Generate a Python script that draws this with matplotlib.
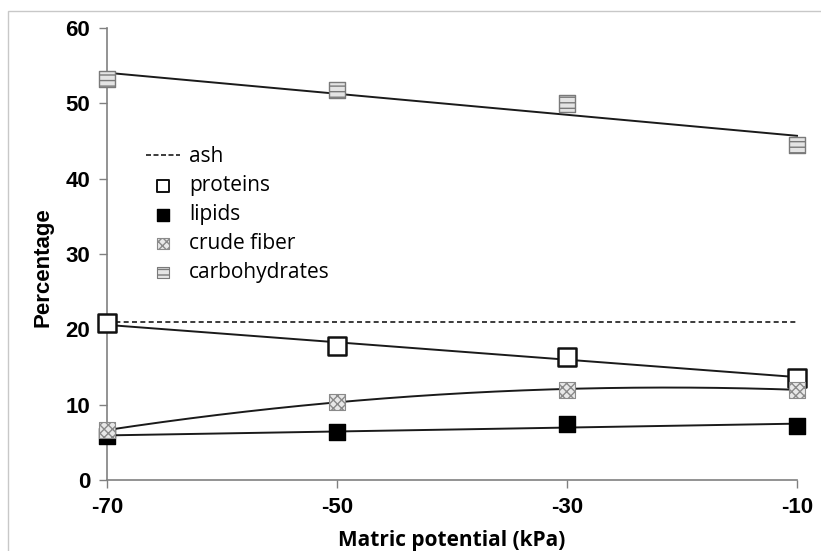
import numpy as np
import matplotlib
matplotlib.use("Agg")
import matplotlib.pyplot as plt
from matplotlib.lines import Line2D
from matplotlib.patches import Rectangle

# Data
matric = [-70, -50, -30, -10]
ash = [21.0, 21.0, 21.0, 21.0]
proteins = [20.8, 17.8, 16.3, 13.6]
lipids = [5.8, 6.4, 7.4, 7.2]
crude_fiber = [6.6, 10.4, 12.0, 12.0]
carbohydrates = [53.2, 51.8, 50.0, 44.5]

x_ticks = [-70, -50, -30, -10]
y_ticks = [0, 10, 20, 30, 40, 50, 60]

fig = plt.figure(figsize=(8.21, 5.51), dpi=100)
ax = fig.add_axes([107 / 821, 1 - 480 / 551, 690 / 821, 452 / 551])

# outer picture frame (light gray)
fig.patches.append(Rectangle((8 / 821, -0.1), 1.2, 1.1 - 11 / 551,
                             transform=fig.transFigure, fill=False,
                             edgecolor="#c8c8c8", linewidth=1.0))

xs = np.linspace(-70, -10, 200)
x = np.array(matric, dtype=float)

# trend lines
for vals, deg in [(carbohydrates, 1), (proteins, 1), (lipids, 1), (crude_fiber, 2)]:
    coef = np.polyfit(x, vals, deg)
    ax.plot(xs, np.polyval(coef, xs), color="#1a1a1a", linewidth=1.4, zorder=2,
            clip_on=False)

ax.plot(matric, ash, color="#1a1a1a", linestyle=(0, (3, 2)), linewidth=1.2, zorder=2)

# markers
ax.scatter(matric, proteins, marker="s", s=150, facecolor="white",
           edgecolor="#111111", linewidth=1.8, zorder=4, clip_on=False)
ax.scatter(matric, lipids, marker="s", s=120, facecolor="black",
           edgecolor="black", linewidth=1.0, zorder=4, clip_on=False)
ax.scatter(matric, crude_fiber, marker="s", s=130, facecolor="#e8e8e8",
           edgecolor="#8a8a8a", hatch="xxxx", linewidth=0.8, zorder=4, clip_on=False)
ax.scatter(matric, carbohydrates, marker="s", s=140, facecolor="#e4e4e4",
           edgecolor="#7a7a7a", hatch="---", linewidth=1.0, zorder=4, clip_on=False)

ax.set_xlim(-70, -10)
ax.set_ylim(0, 60)
ax.set_xticks(x_ticks)
ax.set_yticks(y_ticks)
ax.set_xticklabels([str(t) for t in x_ticks], fontsize=16, fontweight="bold",
                   family="Liberation Sans")
ax.set_yticklabels([str(t) for t in y_ticks], fontsize=16, fontweight="bold",
                   family="Liberation Sans")
ax.tick_params(direction="out", length=6, width=1, color="#808080", pad=6)
for s in ["top", "right"]:
    ax.spines[s].set_visible(False)
for s in ["left", "bottom"]:
    ax.spines[s].set_color("#808080")
    ax.spines[s].set_linewidth(1.2)

ax.set_xlabel("Matric potential (kPa)", fontsize=15, fontweight="bold",
              family="Open Sans", labelpad=9)
ax.set_ylabel("Percentage", fontsize=16, fontweight="bold",
              family="Liberation Sans")
ax.yaxis.set_label_coords(-0.078, 0.47)

handles = [
    Line2D([], [], color="#1a1a1a", linestyle=(0, (3, 1.5)), linewidth=1.2),
    ax.scatter([], [], marker="s", s=80, facecolor="white", edgecolor="#111111", linewidth=1.4),
    ax.scatter([], [], marker="s", s=70, facecolor="black", edgecolor="black"),
    ax.scatter([], [], marker="s", s=70, facecolor="#e8e8e8", edgecolor="#8a8a8a",
               hatch="xxxx", linewidth=0.8),
    ax.scatter([], [], marker="s", s=70, facecolor="#e4e4e4", edgecolor="#7a7a7a",
               hatch="---", linewidth=0.8),
]
labels = ["ash", "proteins", "lipids", "crude fiber", "carbohydrates"]
ax.legend(handles, labels, loc="upper left", bbox_to_anchor=(0.045, 0.757),
          frameon=False, prop={"family": "Open Sans", "size": 15},
          handlelength=1.6, handletextpad=0.45, labelspacing=0.38,
          borderaxespad=0)

fig.savefig("out.png", dpi=100)
